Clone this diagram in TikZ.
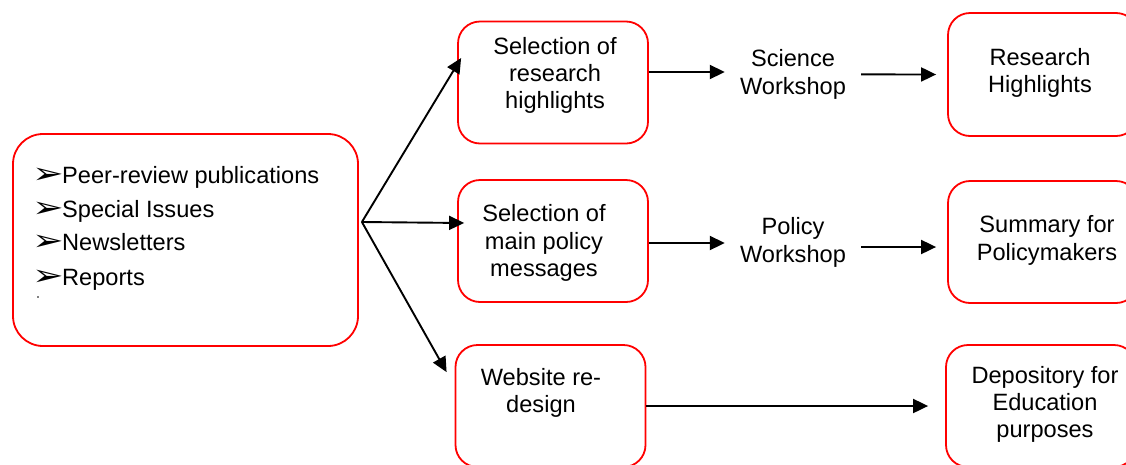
\documentclass[tikz,border=0pt]{standalone}
\usepackage{fontspec}
\setmainfont{Liberation Sans}
\newfontfamily\djv{DejaVu Sans}
\usetikzlibrary{arrows.meta,calc}
\newcommand\mybullet{\makebox[29.5pt][l]{\scalebox{1.3}[1.0]{\djv\fontsize{29}{29}\selectfont ➢}}}
\begin{document}
\begin{tikzpicture}[x=1pt,y=-1pt,
  box/.style={draw=red, line width=1.8pt, rounded corners=22pt, inner sep=0pt,
    minimum width=190pt, minimum height=122pt},
  txt/.style={inner sep=0pt, align=center, font=\fontsize{23.6}{27.3}\selectfont},
  item/.style={inner sep=0pt, anchor=base west, font=\fontsize{23.6}{27.3}\selectfont},
  arr/.style={line width=1.9pt, -{Triangle[length=15pt,width=14pt]}}]
\useasboundingbox (0,0) rectangle (1126,464);
% boxes
\node[box, minimum width=345pt, minimum height=212pt, rounded corners=30pt] (L) at (185.5,240) {};
\node[box] (T1) at (553,82.5) {};
\node[box] (M1) at (553,241) {};
\node[box] (B1) at (550.5,406) {};
\node[box, minimum height=123pt] (T3) at (1043,74.5) {};
\node[box] (M3) at (1043,242) {};
\node[box] (B3) at (1041,406) {};
% texts in boxes
\node[txt] (T1t) at (555,75.2) {Selection of\\research\\highlights};
\node[txt] (M1t) at (544,243) {Selection of\\main policy\\messages};
\node[txt] (B1t) at (541,393) {Website re-\\design};
\node[txt] (T3t) at (1040,73) {Research\\Highlights};
\node[txt] (M3t) at (1047,240.4) {Summary for\\Policymakers};
\node[txt] (B3t) at (1045,404.4) {Depository for\\Education\\purposes};
% workshops
\node[txt, minimum width=136pt] (SW) at (793,74.4) {Science\\Workshop};
\node[txt, minimum width=136pt] (PW) at (793,242.5) {Policy\\Workshop};
% list
\node[item] (i1) at (32.5,183) {\mybullet Peer-review publications};
\node[item] (i2) at (32.5,217) {\mybullet Special Issues};
\node[item] (i3) at (32.5,250) {\mybullet Newsletters};
\node[item] (i4) at (32.5,285) {\mybullet Reports};
\node[circle, fill=black, inner sep=0pt, minimum size=1.8pt] (dot) at (38,297) {};
% arrows
\coordinate (src) at ($(L.east)+(3,-18)$);
\draw[arr] (src) -- ($(T1.west)+(4,-24.5)$);
\draw[arr] (src) -- ($(M1.west)+(7,-18)$);
\draw[arr] (src) -- ($(B1.north west)+(-8,28)$);
\draw[arr] ($(T1.east)+(0,-10.5)$) -- ($(SW.west)+(0,-2.4)$);
\draw[arr] (SW.east) -- ($(T3.west)+(-11,0)$);
\draw[arr] ($(M1.east)+(0,2)$) -- ($(PW.west)+(0,0.5)$);
\draw[arr] ($(PW.east)+(0,4.5)$) -- ($(M3.west)+(-11,5)$);
\draw[arr] (B1.east) -- ($(B3.west)+(-17,0)$);
\end{tikzpicture}
\end{document}
